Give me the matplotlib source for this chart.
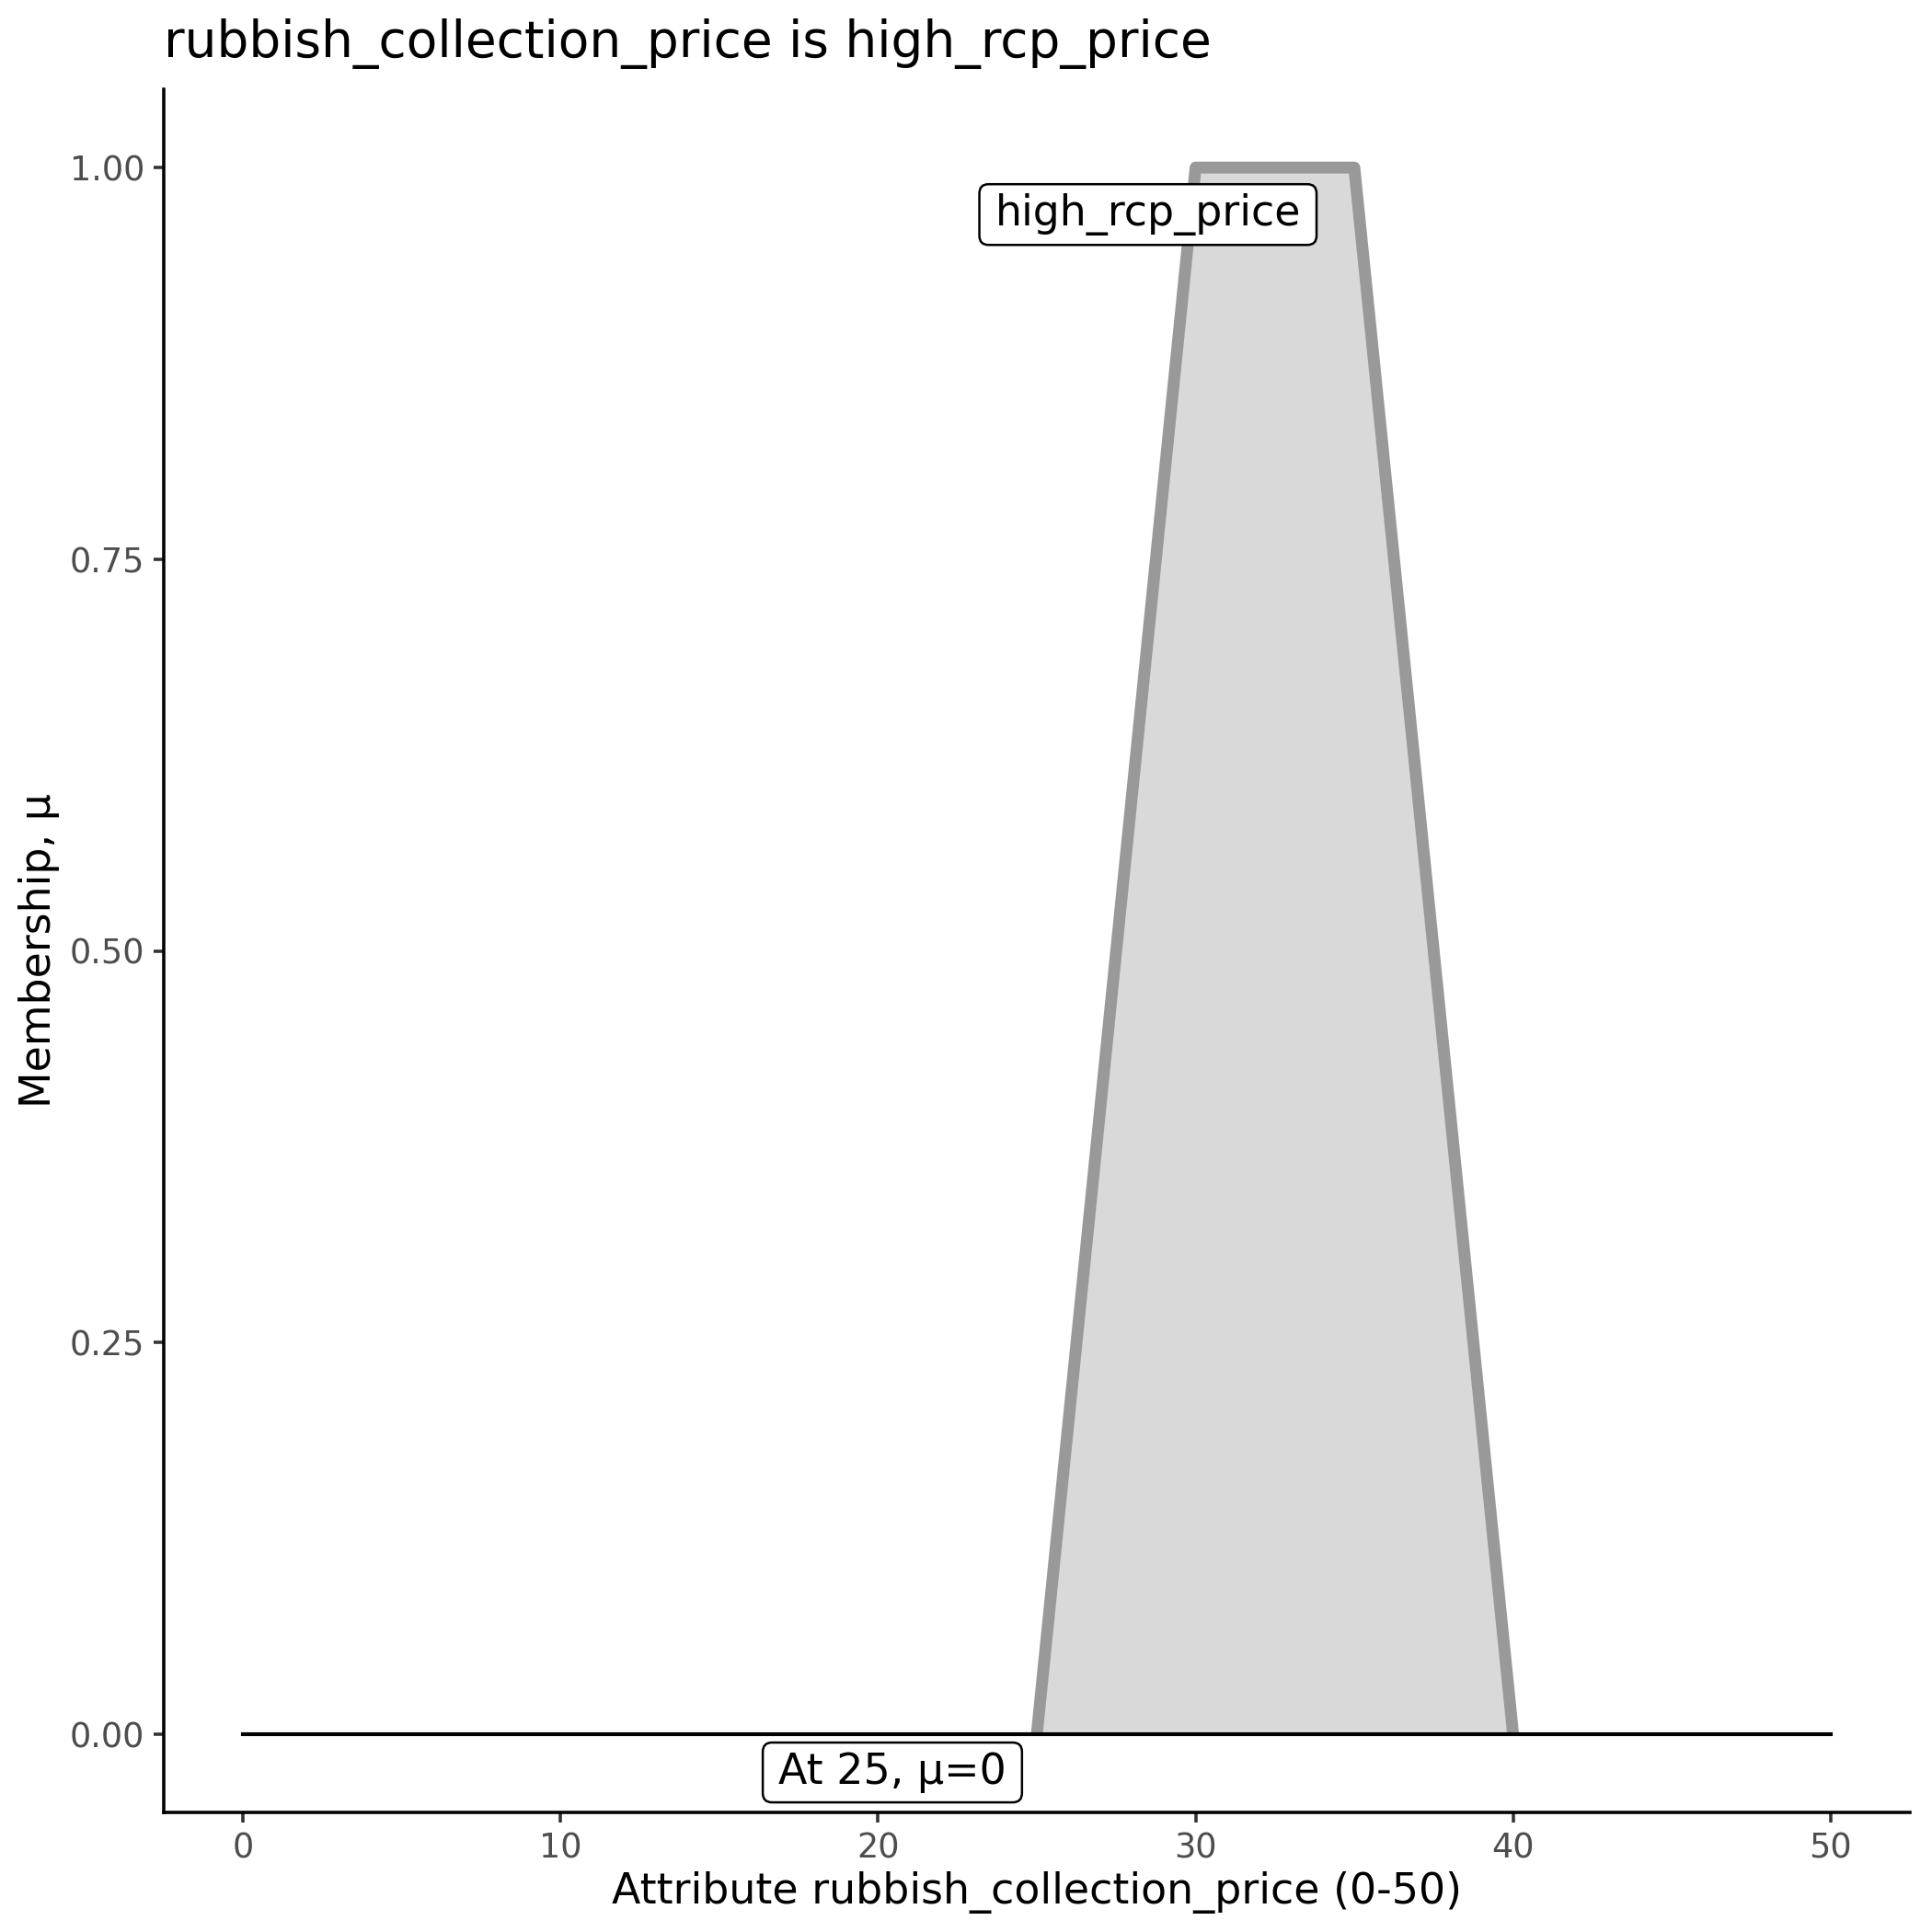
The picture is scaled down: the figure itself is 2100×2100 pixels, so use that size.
import matplotlib
matplotlib.use("Agg")
import matplotlib.pyplot as plt
from matplotlib.patches import FancyBboxPatch
from matplotlib.transforms import IdentityTransform

# data
set_x = [25, 30, 35, 40]
set_mu = [0, 1, 1, 0]
base_x = [0, 50]
base_mu = [0, 0]
set_name = "high_rcp_price"
attr = "rubbish_collection_price"
eval_x = 25
eval_mu = 0
x_ticks = [0, 10, 20, 30, 40, 50]
y_ticks = [0.0, 0.25, 0.5, 0.75, 1.0]
y_ticklabels = ["0.00", "0.25", "0.50", "0.75", "1.00"]

plt.rcParams['font.family'] = ['DejaVu Sans']

fig = plt.figure(figsize=(7, 7), dpi=300)
ax = fig.add_axes([178/2100, 1 - 1970/2100, (2076-178)/2100, (1970-97)/2100])

ax.fill(set_x, set_mu, facecolor="#D9D9D9", edgecolor="none", zorder=1)
ax.plot(set_x, set_mu, color="#999999", lw=3.1, solid_joinstyle="round",
        solid_capstyle="butt", zorder=2)
ax.plot(base_x, base_mu, color="black", lw=1.0, zorder=3)

t1 = ax.text(28.5, 0.97, set_name, ha="center", va="center", fontsize=11,
             zorder=6)
t2 = ax.text(20.45, -0.0245, f"At {eval_x}, μ={eval_mu}", ha="center",
             va="center", fontsize=11, zorder=6)

ax.set_xlim(-2.5, 52.5)
ax.set_ylim(-0.05, 1.05)
ax.set_xticks(x_ticks)
ax.set_yticks(y_ticks)
ax.set_yticklabels(y_ticklabels)

for s in ["top", "right"]:
    ax.spines[s].set_visible(False)
for s in ["left", "bottom"]:
    ax.spines[s].set_linewidth(0.85)
    ax.spines[s].set_color("black")
ax.tick_params(axis="both", length=2.75, width=0.85, color="#333333",
               labelcolor="#4D4D4D", labelsize=8.8, pad=2.2)

ax.set_xlabel(f"Attribute {attr} (0-50)", fontsize=11, labelpad=1.5)
ax.set_ylabel("Membership, μ", fontsize=11, labelpad=2.5)
ax.set_title(f"{attr} is {set_name}", fontsize=13.2, loc="left", pad=8.5,
             x=0)

fig.canvas.draw()
r = fig.canvas.get_renderer()
for t in (t1, t2):
    bb = t.get_window_extent(r)
    px, py = 17, 10
    p = FancyBboxPatch((bb.x0 - px, bb.y0 - py), bb.width + 2 * px,
                       bb.height + 2 * py,
                       boxstyle="round,pad=0,rounding_size=10",
                       transform=IdentityTransform(), facecolor="white",
                       edgecolor="black", linewidth=0.6, zorder=5,
                       clip_on=False)
    ax.add_artist(p)

fig.savefig("out.png", dpi=300, facecolor="white")
